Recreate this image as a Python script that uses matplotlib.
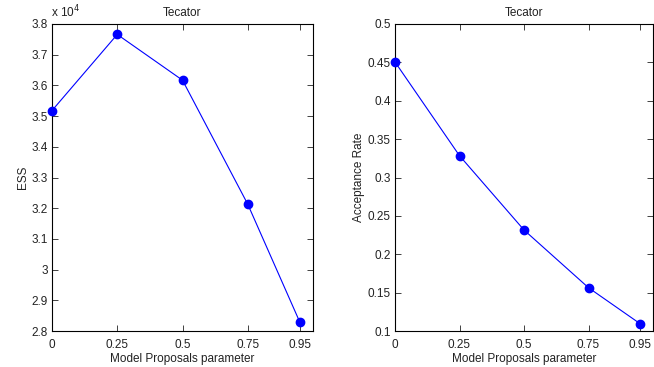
import matplotlib
matplotlib.use("Agg")
import matplotlib.pyplot as plt
from matplotlib.ticker import FuncFormatter

plt.rcParams['font.family'] = ['Liberation Sans', 'DejaVu Sans']

x_vals = [0, 0.25, 0.5, 0.75, 0.95]
x_labels = ['0', '0.25', '0.5', '0.75', '0.95']
ess = [35180, 37660, 36170, 32130, 28280]
acc = [0.4505, 0.3284, 0.2316, 0.1564, 0.1095]
ess_ticks = [28000, 29000, 30000, 31000, 32000, 33000, 34000, 35000, 36000, 37000, 38000]
acc_ticks = [0.1, 0.15, 0.2, 0.25, 0.3, 0.35, 0.4, 0.45, 0.5]

W, H = 654, 367
fig = plt.figure(figsize=(W / 100, H / 100), dpi=100)

def px_axes(l, t, r, b):
    return fig.add_axes([l / W, 1 - b / H, (r - l) / W, (b - t) / H])

ax1 = px_axes(52, 24, 313, 331)
ax2 = px_axes(395, 24, 653, 331)

fs = 8.5
for ax, y, yt, ylab in [(ax1, ess, ess_ticks, 'ESS'), (ax2, acc, acc_ticks, 'Acceptance Rate')]:
    ax.plot(x_vals, y, color='#0000ff', linewidth=0.8, marker='o', markersize=6,
            markerfacecolor='#0000ff', markeredgecolor='#0000ff', clip_on=False, zorder=3)
    ax.set_xlim(0, 1)
    ax.set_ylim(yt[0], yt[-1])
    ax.set_xticks(x_vals)
    ax.set_xticklabels(x_labels)
    ax.set_yticks(yt)
    ax.tick_params(direction='in', length=4, width=0.6, top=True, right=True,
                   labelsize=fs, colors='#222222')
    ax.tick_params(axis='x', pad=6)
    ax.tick_params(axis='y', pad=3)
    for s in ax.spines.values():
        s.set_linewidth(0.8)
    ax.set_title('Tecator', fontsize=fs, pad=6, color='#222222')
    ax.set_xlabel('Model Proposals parameter', fontsize=fs, labelpad=1.5, color='#222222')
    ax.set_ylabel(ylab, fontsize=fs, labelpad=2, color='#222222')

ax1.yaxis.set_major_formatter(FuncFormatter(lambda v, p: '%g' % (v / 1e4)))
ax2.yaxis.set_major_formatter(FuncFormatter(lambda v, p: '%g' % v))
ax1.text(-0.005, 1.012, 'x 10$^{4}$', transform=ax1.transAxes, fontsize=fs,
         ha='left', va='bottom', color='#222222')

fig.savefig('out.png', dpi=100)
